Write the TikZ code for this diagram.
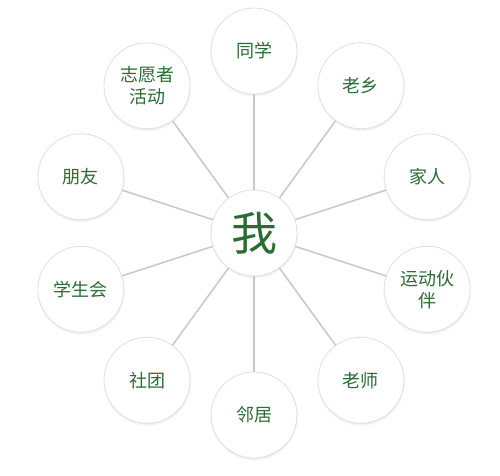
\documentclass[tikz,border=0pt]{standalone}
\usepackage{fontspec}
\setmainfont{Noto Sans CJK SC}
\usetikzlibrary{shadows}
\definecolor{textColor}{RGB}{42,108,52}
\definecolor{lineColor}{RGB}{200,200,200}
\definecolor{rimColor}{RGB}{224,224,224}
\tikzset{
  bubble/.style={circle,minimum size=86pt,inner sep=0pt,fill=white,draw=rimColor,
    line width=0.8pt,text=textColor,align=center,font=\fontsize{18}{22}\selectfont,
    circular drop shadow={shadow xshift=0pt,shadow yshift=-1.5pt,shadow scale=1.03,opacity=0.3}},
  spoke/.style={draw=lineColor,line width=1.5pt},
}
\begin{document}
\begin{tikzpicture}[x=1pt,y=1pt]
\definecolor{fillColor}{RGB}{255,255,255}
\path[use as bounding box,fill=fillColor] (0,0) rectangle (500,475);

\node[bubble,font=\fontsize{46}{46}\selectfont] (me) at (254.00,242.00) {我};

\node[bubble] (tongxue)  at (254.00,424.00) {同学};
\node[bubble] (laoxiang) at (360.98,389.24) {老乡};
\node[bubble] (jiaren)   at (427.10,298.24) {家人};
\node[bubble] (yundong)  at (427.10,185.76) {运动伙\\伴};
\node[bubble] (laoshi)   at (360.98, 94.76) {老师};
\node[bubble] (linju)    at (254.00, 60.00) {邻居};
\node[bubble] (shetuan)  at (147.02, 94.76) {社团};
\node[bubble] (xuesheng) at ( 80.90,185.76) {学生会};
\node[bubble] (pengyou)  at ( 80.90,298.24) {朋友};
\node[bubble] (zhiyuan)  at (147.02,389.24) {志愿者\\活动};

\foreach \n in {tongxue,laoxiang,jiaren,yundong,laoshi,linju,shetuan,xuesheng,pengyou,zhiyuan}
  \path[spoke] (me) -- (\n);
\end{tikzpicture}
\end{document}
